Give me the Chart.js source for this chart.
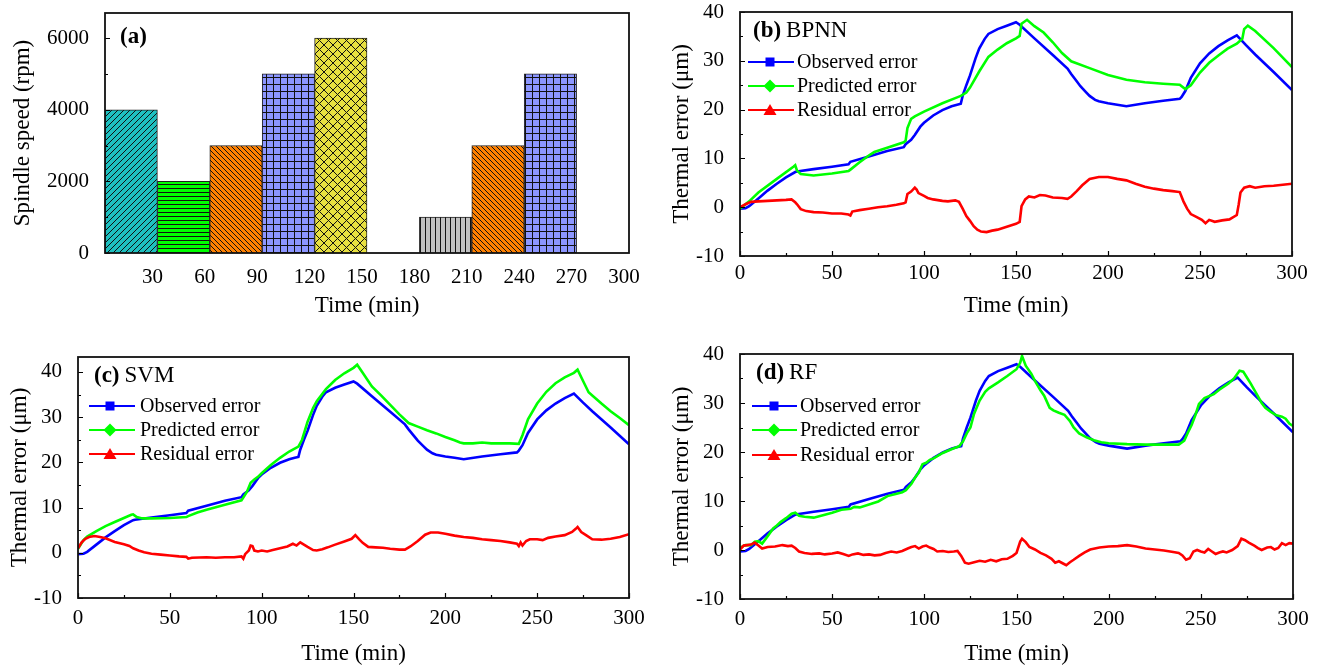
<!DOCTYPE html>
<html><head><meta charset="utf-8">
<script src="https://cdn.jsdelivr.net/npm/chart.js@4.4.1/dist/chart.umd.min.js"></script>
<style>
html,body{margin:0;padding:0;background:#fff;width:1317px;height:668px;overflow:hidden;position:relative}
canvas{position:absolute}
</style></head><body>
<canvas id="ca" width="655" height="330" style="left:0;top:0"></canvas>
<canvas id="cb" width="657" height="330" style="left:660px;top:0"></canvas>
<canvas id="cc" width="660" height="338" style="left:0;top:330px"></canvas>
<canvas id="cd" width="657" height="338" style="left:660px;top:330px"></canvas>
<script>
// ---------------- data ----------------
const speedStart  = [0, 30, 60, 90, 120, 150, 180, 210, 240, 270];
const speedValues = [4000, 2000, 3000, 5000, 6000, 0, 1000, 3000, 5000, 0];
const speedXTicks = [30, 60, 90, 120, 150, 180, 210, 240, 270, 300];
const speedYTicks = [0, 2000, 4000, 6000];
const timeTicks   = [0, 50, 100, 150, 200, 250, 300];
const errYTicks   = [-10, 0, 10, 20, 30, 40];

const observed = [[0,-0.3],[3,-0.2],[5,0.2],[10,1.8],[15,3.4],[20,4.8],[25,6.1],[30,7.2],[31,7.3],[40,7.8],[50,8.3],[59,8.8],[60,9.3],[70,10.4],[80,11.5],[89,12.3],[90,12.9],[93,13.8],[95,14.8],[98,16.5],[100,17.3],[105,18.8],[110,19.9],[115,20.7],[118,21.0],[120,21.2],[121,22.8],[123,25.0],[125,27.0],[128,30.5],[130,32.5],[133,34.5],[135,35.5],[140,36.5],[145,37.2],[150,37.9],[152,37.4],[160,34.6],[170,31.2],[178,28.4],[180,27.3],[183,25.8],[185,24.8],[188,23.6],[190,22.8],[193,22.0],[195,21.7],[200,21.3],[205,21.0],[210,20.7],[220,21.3],[230,21.8],[239,22.2],[240,22.6],[242,23.8],[245,26.5],[250,29.5],[255,31.5],[260,33.0],[265,34.2],[270,35.2],[275,33.2],[280,31.3],[290,27.7],[300,24.0]];

const bpnnPredicted = [[0,-0.3],[5,1.2],[10,3.0],[20,5.8],[29,8.3],[30,8.6],[31,7.5],[33,6.8],[40,6.5],[50,6.9],[59,7.4],[60,7.7],[65,9.2],[70,10.6],[73,11.3],[80,12.2],[89,13.3],[90,13.6],[91,16.2],[93,18.1],[95,18.6],[100,19.6],[110,21.3],[118,22.5],[120,22.8],[123,23.5],[125,24.5],[130,27.8],[135,30.8],[140,32.3],[145,33.6],[150,34.6],[152,35.1],[153,37.6],[156,38.4],[160,37.1],[165,35.8],[170,33.8],[175,31.6],[180,29.9],[190,28.5],[200,27.1],[210,26.1],[220,25.6],[230,25.3],[239,25.1],[242,24.2],[245,25.0],[250,27.6],[255,29.6],[260,31.1],[265,32.5],[270,33.5],[273,34.5],[274,36.5],[276,37.2],[280,36.1],[290,32.6],[300,28.7]];
const bpnnResidual = [[0,0],[3,0.6],[6,1.1],[10,1.2],[15,1.3],[20,1.4],[25,1.5],[28,1.6],[30,1.0],[31,0.6],[33,-0.4],[36,-0.8],[40,-1.0],[45,-1.1],[50,-1.3],[55,-1.3],[59,-1.5],[60,-1.7],[61,-0.9],[65,-0.6],[70,-0.3],[75,0],[80,0.2],[85,0.5],[89,0.8],[90,1.0],[91,2.7],[93,3.2],[95,4.0],[96,3.6],[97,2.9],[100,2.3],[102,1.9],[105,1.6],[110,1.3],[113,1.2],[117,1.4],[119,1.1],[121,-0.3],[123,-1.8],[125,-2.8],[127,-3.9],[129,-4.6],[131,-5.0],[134,-5.1],[137,-4.8],[140,-4.6],[145,-4.0],[150,-3.4],[152,-3.0],[153,0.2],[155,1.6],[157,2.2],[160,2.0],[163,2.5],[166,2.4],[170,2.0],[175,1.9],[178,1.7],[180,2.2],[183,3.3],[186,4.5],[190,5.8],[195,6.2],[200,6.2],[205,5.8],[210,5.5],[215,4.8],[220,4.2],[225,3.8],[230,3.5],[235,3.3],[239,3.1],[241,1.2],[243,-0.3],[245,-1.4],[248,-2.0],[251,-2.6],[253,-3.3],[255,-2.6],[258,-3.0],[262,-2.7],[266,-2.5],[270,-1.6],[271,0.5],[272,3.0],[274,4.0],[277,4.3],[280,4.0],[285,4.3],[290,4.4],[295,4.6],[300,4.8]];

const svmPredicted = [[0,0.9],[3,2.8],[5,3.6],[10,4.8],[15,5.9],[20,6.8],[25,7.7],[29,8.4],[30,8.5],[32,7.9],[35,7.6],[40,7.6],[50,7.7],[59,7.9],[60,8.1],[65,8.9],[70,9.5],[80,10.6],[89,11.6],[90,12.2],[92,13.5],[94,15.5],[96,16.2],[98,16.8],[100,17.6],[105,19.4],[110,21.0],[115,22.4],[120,23.5],[122,25.0],[125,29.0],[128,32.0],[130,33.5],[135,36.2],[140,38.2],[145,39.7],[150,40.9],[152,41.6],[155,39.8],[160,36.8],[165,34.8],[170,32.7],[175,30.6],[180,28.7],[185,27.9],[190,27.1],[195,26.4],[200,25.6],[205,24.9],[208,24.4],[210,24.2],[215,24.2],[220,24.4],[225,24.2],[230,24.2],[235,24.2],[240,24.1],[242,26.0],[245,29.5],[250,33.0],[255,35.6],[260,37.5],[265,38.8],[270,39.8],[272,40.5],[275,38.0],[278,35.5],[280,34.8],[285,33.0],[290,31.3],[295,29.8],[300,28.2]];
const svmResidual = [[0,1.0],[2,2.3],[4,3.1],[6,3.5],[9,3.7],[12,3.5],[15,3.2],[20,2.4],[25,1.9],[28,1.5],[30,1.0],[33,0.5],[36,0.1],[40,-0.2],[45,-0.4],[50,-0.6],[55,-0.8],[59,-0.9],[60,-1.3],[62,-1.1],[70,-1.0],[75,-1.1],[80,-1.0],[85,-1.0],[89,-0.8],[90,-1.3],[91,-0.3],[93,0.5],[94,1.6],[95,1.5],[96,0.5],[98,0.3],[100,0.5],[103,0.3],[106,0.6],[110,1.0],[114,1.4],[117,2.0],[119,1.6],[121,2.3],[123,1.8],[125,1.3],[128,0.6],[130,0.5],[133,0.8],[136,1.2],[140,1.8],[145,2.5],[149,3.1],[151,3.9],[153,3.0],[155,2.2],[158,1.3],[162,1.2],[166,1.1],[170,0.9],[175,0.7],[178,0.7],[181,1.4],[185,2.6],[189,4.0],[192,4.5],[196,4.5],[200,4.2],[205,3.8],[210,3.5],[215,3.3],[220,3.0],[225,2.8],[230,2.6],[235,2.3],[239,2.0],[240,1.5],[241,2.3],[242,1.6],[244,2.6],[246,3.0],[250,3.0],[253,2.8],[256,3.3],[260,3.6],[265,3.9],[269,4.6],[271,5.3],[272,5.7],[274,4.6],[277,3.8],[280,3.0],[285,2.9],[290,3.1],[295,3.5],[300,4.1]];

const rfPredicted = [[0,0.5],[3,1.0],[6,1.0],[8,1.7],[10,1.8],[12,1.3],[15,2.8],[18,4.4],[20,5.0],[22,5.7],[25,6.5],[28,7.4],[30,7.6],[32,7.0],[35,6.8],[40,6.6],[45,7.1],[50,7.6],[55,8.2],[60,8.4],[62,8.8],[65,8.7],[70,9.3],[75,9.9],[80,11.0],[85,11.5],[88,11.8],[90,12.2],[93,13.5],[95,14.8],[97,15.8],[99,17.5],[101,17.8],[103,18.4],[105,18.7],[110,19.8],[115,20.6],[119,21.2],[121,22.2],[123,23.8],[125,25.0],[127,27.8],[130,30.5],[133,32.3],[135,33.0],[140,34.2],[145,35.5],[150,36.9],[152,38.2],[153,39.6],[155,37.6],[158,36.0],[160,34.5],[163,32.6],[165,31.5],[168,29.0],[170,28.5],[173,28.0],[176,27.6],[179,26.3],[181,25.0],[184,23.8],[188,23.0],[192,22.4],[196,22.0],[200,21.8],[210,21.6],[220,21.5],[230,21.5],[238,21.5],[241,22.3],[243,24.0],[245,25.5],[247,27.5],[249,29.8],[252,31.0],[257,31.8],[260,32.7],[265,34.0],[268,35.0],[271,36.6],[273,36.4],[275,35.2],[277,34.0],[280,32.0],[283,30.0],[285,29.0],[288,28.2],[291,27.5],[294,27.2],[296,26.8],[298,25.8],[300,25.3]];
const rfResidual = [[0,0.1],[2,0.9],[4,1.0],[6,1.1],[8,1.5],[10,0.9],[12,0.3],[15,0.6],[19,0.7],[23,1.0],[26,0.8],[28,0.9],[30,0.4],[32,-0.3],[35,-0.6],[39,-0.8],[43,-0.7],[46,-0.9],[50,-0.7],[53,-0.5],[56,-0.8],[59,-1.2],[61,-0.9],[64,-0.7],[67,-1.0],[70,-0.9],[73,-1.1],[76,-1.0],[79,-0.6],[82,-0.3],[85,-0.5],[88,-0.2],[91,0.3],[93,0.6],[95,0.8],[97,0.3],[99,0.7],[101,0.9],[103,0.5],[105,0.2],[107,-0.3],[110,-0.2],[113,-0.4],[116,-0.3],[118,-0.2],[120,-1.2],[122,-2.6],[124,-2.8],[127,-2.5],[130,-2.2],[133,-2.4],[136,-2.0],[139,-2.3],[142,-1.9],[145,-1.8],[148,-1.2],[150,-0.6],[152,1.7],[153,2.3],[155,1.6],[157,0.6],[160,0.1],[163,-0.6],[166,-1.1],[169,-1.8],[171,-2.6],[173,-2.3],[175,-2.7],[177,-3.1],[179,-2.5],[181,-2.0],[184,-1.2],[187,-0.5],[190,0.1],[195,0.5],[200,0.7],[205,0.8],[210,1.0],[215,0.7],[220,0.3],[225,0.1],[230,-0.1],[235,-0.4],[238,-0.6],[240,-1.1],[242,-2.0],[244,-1.7],[246,-0.3],[248,0.0],[250,-0.3],[252,-0.5],[254,0.2],[256,-0.3],[258,-0.8],[260,-0.5],[262,-0.3],[264,-0.5],[267,0.0],[270,0.8],[272,2.3],[274,2.0],[276,1.5],[279,0.9],[281,0.4],[283,0.0],[286,0.5],[288,0.6],[290,0.1],[292,0.4],[294,1.4],[296,1.0],[298,1.4],[300,1.3]];

// ---------------- styling ----------------
const FONT = "'Liberation Serif','Times New Roman',serif";
const XTICK_FONT = {family: FONT, size: 21, lineHeight: 1};
const YTICK_FONT = {family: FONT, size: 21, lineHeight: 0.3};
const TITLE_FONT = {family: FONT, size: 23, lineHeight: 1.2};
const C_OBS = '#0000ff', C_PRED = '#00ff00', C_RES = '#ff0000';

function makePattern(bg, type, s) {
  const c = document.createElement('canvas');
  c.width = s; c.height = s;
  const x = c.getContext('2d');
  x.fillStyle = bg; x.fillRect(0, 0, s, s);
  x.strokeStyle = '#111'; x.fillStyle = '#111'; x.lineWidth = 1;
  x.beginPath();
  if (type === 'fwd' || type === 'cross') {
    x.moveTo(-1, s + 1); x.lineTo(s + 1, -1);
    x.moveTo(-1, 1); x.lineTo(1, -1);
    x.moveTo(s - 1, s + 1); x.lineTo(s + 1, s - 1);
  }
  if (type === 'back' || type === 'cross') {
    x.moveTo(-1, -1); x.lineTo(s + 1, s + 1);
    x.moveTo(-1, s - 1); x.lineTo(1, s + 1);
    x.moveTo(s - 1, -1); x.lineTo(s + 1, 1);
  }
  x.stroke();
  if (type === 'horiz' || type === 'grid') x.fillRect(0, 0, s, 1);
  if (type === 'vert' || type === 'grid') x.fillRect(0, 0, 1, s);
  return document.createElement('canvas').getContext('2d').createPattern(c, 'repeat');
}

const barFills = [
  makePattern('#1ec0c0', 'fwd', 6),
  makePattern('#00ff00', 'horiz', 4),
  makePattern('#ff8000', 'back', 5),
  makePattern('#8c96ff', 'grid', 7),
  makePattern('#e8e040', 'cross', 9),
  'rgba(0,0,0,0)',
  makePattern('#c0c0c0', 'vert', 5),
  makePattern('#ff8000', 'back', 5),
  makePattern('#8c96ff', 'grid', 7),
  'rgba(0,0,0,0)'
];

function drawMarker(ctx, style, x, y, color) {
  ctx.fillStyle = color;
  ctx.beginPath();
  if (style === 'rect') ctx.rect(x - 4.5, y - 4.5, 9, 9);
  else if (style === 'rectRot') { ctx.moveTo(x, y - 6.5); ctx.lineTo(x + 6.5, y); ctx.lineTo(x, y + 6.5); ctx.lineTo(x - 6.5, y); ctx.closePath(); }
  else { ctx.moveTo(x, y - 6); ctx.lineTo(x + 6.5, y + 5); ctx.lineTo(x - 6.5, y + 5); ctx.closePath(); }
  ctx.fill();
}

const decor = {
  id: 'decor',
  afterDraw(chart) {
    const o = chart.options.plugins.decor;
    const {ctx, chartArea: a} = chart;
    const xs = chart.scales.x, ys = chart.scales.y;
    ctx.save();
    ctx.strokeStyle = '#000'; ctx.lineWidth = 1.2;
    ctx.beginPath();
    const xt = xs.ticks.map(t => t.value);
    if (o.xTickLen) {
      xt.forEach((v, i) => {
        const p = Math.round(xs.getPixelForValue(v)) + 0.5;
        ctx.moveTo(p, a.bottom); ctx.lineTo(p, a.bottom - o.xTickLen);
        if (i < xt.length - 1) {
          const m = Math.round(xs.getPixelForValue((v + xt[i + 1]) / 2)) + 0.5;
          ctx.moveTo(m, a.bottom); ctx.lineTo(m, a.bottom - o.xTickLen * 0.6);
        }
      });
    }
    const yt = ys.ticks.map(t => t.value);
    yt.forEach((v, i) => {
      const p = Math.round(ys.getPixelForValue(v)) + 0.5;
      ctx.moveTo(a.left, p); ctx.lineTo(a.left + o.yTickLen, p);
      if (i < yt.length - 1) {
        const m = Math.round(ys.getPixelForValue((v + yt[i + 1]) / 2)) + 0.5;
        ctx.moveTo(a.left, m); ctx.lineTo(a.left + o.yTickLen * 0.6, m);
      }
    });
    ctx.stroke();
    ctx.lineWidth = 1.8; ctx.strokeStyle = '#111';
    ctx.strokeRect(a.left, a.top, a.right - a.left, a.bottom - a.top);
    // panel label
    ctx.fillStyle = '#000'; ctx.textBaseline = 'middle'; ctx.textAlign = 'left';
    ctx.font = 'bold 23px ' + FONT;
    ctx.fillText(o.tag, a.left + o.lx, a.top + o.ly);
    if (o.name) {
      const w = ctx.measureText(o.tag).width;
      ctx.font = '23px ' + FONT;
      ctx.fillText(o.name, a.left + o.lx + w + 5, a.top + o.ly);
    }
    // legend
    if (o.legend) {
      const L = o.legend;
      chart.data.datasets.forEach((ds, i) => {
        const y = a.top + L.rows[i];
        ctx.strokeStyle = ds.borderColor; ctx.lineWidth = 2;
        ctx.beginPath(); ctx.moveTo(a.left + L.x0, y); ctx.lineTo(a.left + L.x1, y); ctx.stroke();
        drawMarker(ctx, ds.pointStyle, a.left + L.mk, y, ds.borderColor);
        ctx.fillStyle = '#000'; ctx.font = '20px ' + FONT;
        ctx.fillText(ds.label, a.left + L.tx, y + 1);
      });
    }
    ctx.restore();
  }
};

function toXY(pairs) { return pairs.map(p => ({x: p[0], y: p[1]})); }

// ---------------- (a) spindle speed ----------------
new Chart(document.getElementById('ca'), {
  type: 'bar',
  data: {
    datasets: [{
      label: 'Spindle speed',
      data: speedStart.map((s, i) => ({x: s + 15, y: speedValues[i]})),
      backgroundColor: barFills,
      borderColor: '#222',
      borderWidth: speedValues.map(v => v ? 1 : 0),
      barPercentage: 1, categoryPercentage: 1
    }]
  },
  options: {
    responsive: false, animation: false,
    layout: {padding: {left: 0, right: 26, top: 13, bottom: 0}},
    plugins: {legend: {display: false}, tooltip: {enabled: false},
      decor: {tag: '(a)', lx: 15, ly: 24, xTickLen: 0, yTickLen: 5}},
    scales: {
      x: {type: 'linear', min: 0, max: 300, offset: false,
        afterBuildTicks: s => { s.ticks = speedXTicks.map(v => ({value: v})); },
        afterFit: s => { s.height = 77; },
        grid: {display: false}, border: {display: false},
        ticks: {font: XTICK_FONT, color: '#000', padding: 6, labelOffset: -5, maxRotation: 0, autoSkip: false},
        title: {display: true, text: 'Time (min)', font: TITLE_FONT, color: '#000', padding: {top: 0, bottom: 10}}},
      y: {min: 0, max: 6700,
        afterBuildTicks: s => { s.ticks = speedYTicks.map(v => ({value: v})); },
        afterFit: s => { s.width = 105; },
        grid: {display: false}, border: {display: false},
        ticks: {font: YTICK_FONT, color: '#000', padding: 8, callback: v => String(v)},
        title: {display: true, text: 'Spindle speed (rpm)', font: TITLE_FONT, color: '#000', padding: {top: 9, bottom: 0}}}
    }
  },
  plugins: [decor]
});

// ---------------- (b)(c)(d) thermal error ----------------
function errorChart(id, pred, resid, p) {
  const lineDs = (label, data, color, style, order) => ({
    label, data: toXY(data), borderColor: color, backgroundColor: color,
    borderWidth: 2.6, pointRadius: 0, pointStyle: style, tension: 0, order
  });
  new Chart(document.getElementById(id), {
    type: 'line',
    data: {datasets: [
      lineDs('Observed error', observed, C_OBS, 'rect', 3),
      lineDs('Predicted error', pred, C_PRED, 'rectRot', 2),
      lineDs('Residual error', resid, C_RES, 'triangle', 1)
    ]},
    options: {
      responsive: false, animation: false,
      layout: {padding: {left: 0, right: p.padR, top: p.padT, bottom: 0}},
      plugins: {legend: {display: false}, tooltip: {enabled: false},
        decor: {tag: p.tag, name: p.name, lx: p.lx, ly: p.ly, xTickLen: 5, yTickLen: 5, legend: p.legend}},
      scales: {
        x: {type: 'linear', min: 0, max: 300,
          afterBuildTicks: s => { s.ticks = timeTicks.map(v => ({value: v})); },
          afterFit: s => { s.height = p.xH; },
          grid: {display: false}, border: {display: false},
          ticks: {font: XTICK_FONT, color: '#000', padding: p.xtkPad, maxRotation: 0, autoSkip: false},
          title: {display: true, text: 'Time (min)', font: TITLE_FONT, color: '#000', padding: {top: 0, bottom: p.xtPad}}},
        y: {min: -10, max: p.ymax,
          afterBuildTicks: s => { s.ticks = errYTicks.map(v => ({value: v})); },
          afterFit: s => { s.width = p.yW; },
          grid: {display: false}, border: {display: false},
          ticks: {font: YTICK_FONT, color: '#000', padding: 8},
          title: {display: true, text: 'Thermal error (μm)', font: TITLE_FONT, color: '#000', padding: {top: p.ytPad, bottom: 0}}}
      }
    },
    plugins: [decor]
  });
}

errorChart('cb', bpnnPredicted, bpnnResidual, {
  tag: '(b)', name: 'BPNN', lx: 13, ly: 19, padR: 25, padT: 12, xH: 74, yW: 80, ymax: 40, xtPad: 10, ytPad: 8, xtkPad: -1,
  legend: {rows: [50, 74, 98], x0: 8, x1: 54, mk: 30, tx: 57}
});
errorChart('cc', svmPredicted, svmResidual, {
  tag: '(c)', name: 'SVM', lx: 16, ly: 19, padR: 31, padT: 27, xH: 70, yW: 78, ymax: 43.3, xtPad: 0, ytPad: 6, xtkPad: 2,
  legend: {rows: [49, 73, 97], x0: 11, x1: 57, mk: 32, tx: 62}
});
errorChart('cd', rfPredicted, rfResidual, {
  tag: '(d)', name: 'RF', lx: 16, ly: 19, padR: 24, padT: 24, xH: 69, yW: 80, ymax: 40, xtPad: 0, ytPad: 8, xtkPad: 2,
  legend: {rows: [52, 76, 101], x0: 12, x1: 57, mk: 34, tx: 60}
});
</script>
</body></html>
